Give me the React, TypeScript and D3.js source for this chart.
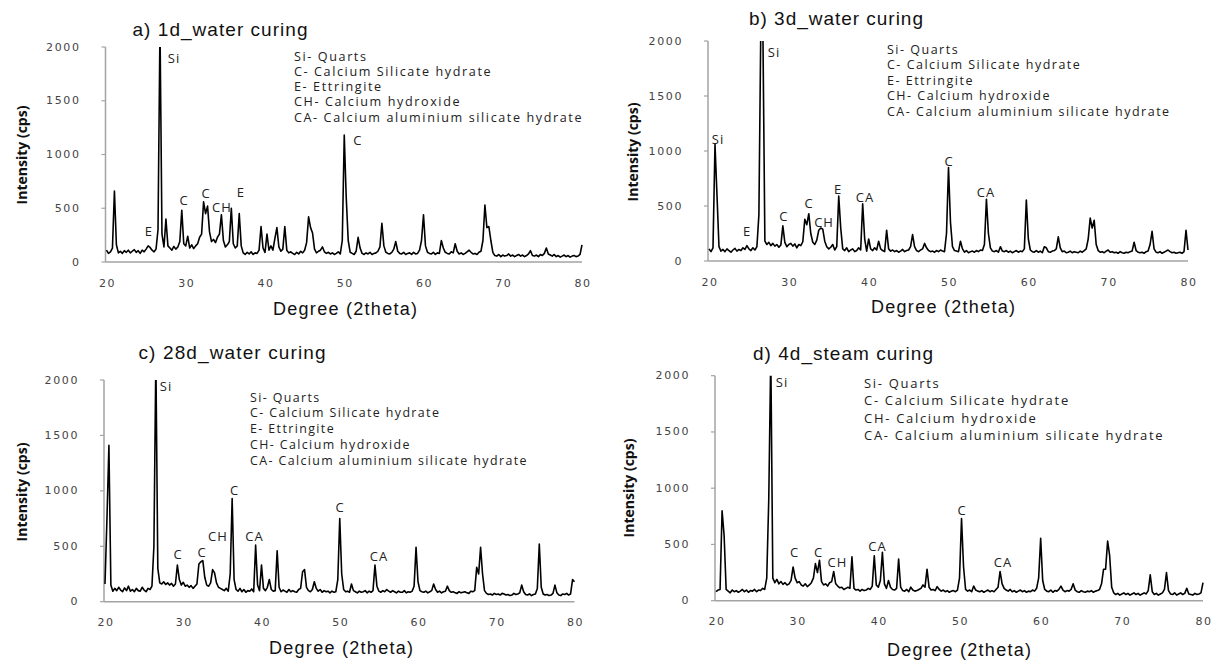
import React from "react";
import * as d3 from "d3";

// XRD patterns, sampled every 0.25° 2θ from 20° to 80° (intensity in cps)
const START = 20;
const STEP = 0.25;
const xTicks = [20, 30, 40, 50, 60, 70, 80];
const yTicks = [0, 500, 1000, 1500, 2000];

const cps1d = [
  110, 80, 95, 130, 660, 160, 85, 100, 80, 105, 90, 110, 85, 100, 115, 90, 105, 80, 110, 95,
  120, 150, 135, 110, 95, 120, 300, 2200, 260, 140, 400, 150, 130, 110, 145, 120, 140, 190, 480, 170,
  150, 240, 130, 160, 125, 150, 170, 230, 260, 560, 450, 520, 280, 190, 210, 180, 230, 260, 440, 200,
  140, 160, 190, 500, 170, 130, 150, 450, 150, 85, 70, 90, 75, 95, 70, 85, 80, 110, 330, 130,
  90, 260, 110, 150, 110, 220, 320, 140, 100, 120, 330, 110, 85, 95, 80, 70, 90, 75, 100, 85,
  110, 180, 420, 320, 270, 120, 85, 100, 110, 140, 95, 80, 90, 75, 85, 70, 80, 95, 75, 200,
  1180, 600, 200, 90, 80, 70, 100, 230, 130, 80, 70, 85, 75, 90, 70, 80, 85, 100, 140, 360,
  150, 90, 80, 75, 90, 120, 190, 100, 80, 75, 90, 70, 80, 85, 70, 90, 75, 80, 110, 200,
  440, 150, 90, 80, 75, 90, 70, 85, 80, 200, 130, 90, 80, 75, 95, 85, 170, 100, 75, 85,
  70, 80, 95, 110, 90, 75, 80, 70, 90, 100, 200, 530, 320, 330, 200, 90, 60, 55, 70, 50,
  65, 55, 60, 75, 55, 65, 50, 60, 70, 55, 65, 50, 60, 75, 105, 60, 55, 65, 50, 70,
  60, 80, 130, 75, 65, 55, 70, 50, 60, 45, 55, 65, 50, 60, 45, 55, 60, 50, 55, 70,
  160,
];

const cps3d = [
  110, 85, 120, 1060, 600, 130, 90, 105, 85, 110, 95, 80, 100, 115, 90, 105, 95, 120, 105, 140,
  110, 95, 120, 100, 130, 420, 2200, 2100, 180, 150, 170, 140, 160, 135, 150, 125, 145, 320, 170, 130,
  150, 160, 135, 155, 120, 150, 140, 175, 380, 330, 430, 250, 170, 150, 190, 280, 300, 290, 180, 130,
  110, 125, 150, 100, 130, 590, 300, 110, 95, 120, 85, 100, 110, 85, 95, 120, 100, 520, 200, 90,
  200, 110, 95, 120, 100, 180, 110, 95, 85, 280, 110, 90, 100, 85, 95, 80, 90, 105, 85, 95,
  100, 130, 240, 130, 95, 85, 100, 110, 160, 120, 95, 85, 90, 80, 95, 85, 100, 90, 85, 250,
  850, 350, 130, 95, 90, 85, 180, 110, 80, 95, 75, 85, 90, 80, 95, 85, 100, 95, 150, 560,
  250, 120, 90, 85, 95, 80, 130, 90, 85, 95, 80, 90, 75, 85, 95, 80, 90, 85, 110, 555,
  200, 100, 85, 80, 95, 80, 90, 75, 130, 120, 85, 80, 90, 95, 110, 220, 120, 85, 90, 75,
  80, 90, 75, 85, 80, 75, 90, 80, 95, 110, 200, 390, 300, 370, 150, 95, 80, 85, 75, 90,
  100, 80, 85, 75, 80, 70, 85, 75, 70, 80, 75, 85, 90, 170, 95, 80, 75, 80, 70, 85,
  90, 150, 270, 110, 80, 75, 85, 70, 80, 90, 100, 85, 75, 80, 70, 75, 80, 70, 85, 280,
  100,
];

const cps28d = [
  160, 750, 1410, 150, 95, 120, 100, 130, 105, 90, 125, 100, 140, 95, 110, 90, 120, 100, 95, 130,
  105, 90, 120, 110, 140, 500, 2200, 300, 170, 160, 180, 155, 170, 150, 165, 140, 160, 330, 200, 150,
  175, 140, 150, 130, 145, 120, 140, 160, 340, 360, 370, 220, 150, 140, 170, 290, 260, 170, 130, 120,
  110, 100, 120, 95, 250, 930, 200, 110, 95, 120, 90, 110, 85, 100, 95, 115, 90, 510, 150, 100,
  330, 120, 100, 130, 200, 110, 95, 100, 460, 130, 90, 105, 95, 85, 110, 90, 100, 90, 85, 110,
  120, 270, 290, 130, 100, 90, 110, 180, 120, 95, 110, 85, 100, 90, 95, 80, 95, 85, 90, 200,
  750, 250, 110, 90, 95, 85, 160, 100, 90, 80, 95, 85, 90, 100, 80, 95, 85, 100, 330, 140,
  95, 85, 100, 90, 110, 95, 85, 100, 90, 80, 95, 85, 85, 100, 80, 90, 85, 95, 140, 490,
  180, 100, 90, 85, 95, 80, 90, 100, 160, 110, 85, 95, 80, 90, 95, 140, 100, 85, 90, 80,
  75, 90, 80, 85, 90, 80, 75, 95, 90, 100, 310, 250, 490, 250, 100, 75, 65, 70, 60, 75,
  65, 70, 60, 75, 70, 60, 65, 55, 60, 75, 65, 70, 80, 150, 90, 65, 60, 70, 55, 65,
  70, 120, 520, 130, 70, 60, 65, 55, 60, 75, 150, 80, 60, 55, 70, 65, 75, 60, 70, 200,
  180,
];

const cps4dSteam = [
  80, 95, 100, 800, 580, 100, 85, 70, 95, 80, 90, 75, 85, 100, 80, 95, 75, 90, 85, 100,
  80, 95, 90, 110, 100, 200, 900, 2200, 200, 160, 190, 150, 170, 145, 160, 140, 150, 180, 300, 200,
  160, 170, 140, 130, 150, 125, 140, 160, 200, 330, 250, 360, 170, 140, 150, 130, 160, 170, 260, 150,
  130, 115, 120, 100, 110, 120, 110, 390, 110, 95, 100, 85, 100, 90, 95, 110, 100, 130, 400, 140,
  120, 180, 430, 150, 110, 180, 120, 100, 95, 110, 370, 120, 90, 85, 100, 80, 120, 95, 85, 90,
  100, 110, 140, 120, 280, 120, 95, 100, 90, 125, 100, 85, 95, 80, 90, 75, 85, 90, 80, 95,
  200, 730, 300, 100, 85, 95, 80, 130, 95, 85, 80, 90, 75, 85, 95, 80, 90, 80, 100, 120,
  260, 150, 110, 95, 85, 100, 80, 90, 75, 85, 95, 80, 90, 75, 85, 80, 95, 85, 110, 200,
  555, 180, 100, 85, 80, 95, 75, 90, 85, 100, 130, 95, 80, 90, 85, 100, 150, 95, 80, 75,
  90, 80, 75, 85, 80, 90, 75, 85, 90, 100, 150, 280, 280, 530, 400, 120, 70, 55, 65, 50,
  60, 70, 55, 65, 50, 60, 70, 55, 65, 50, 60, 70, 60, 90, 230, 80, 55, 65, 50, 60,
  70, 100, 250, 90, 60, 55, 70, 50, 60, 70, 55, 65, 110, 60, 55, 50, 65, 55, 60, 70,
  160,
];

// peak annotations: [2θ, cps, label]
const peaks1d: [number, number, string][] = [
  [28.52, 1898, "Si"], [25.36, 288, "E"], [29.78, 577, "C"], [32.56, 642, "C"],
  [34.57, 512, "CH"], [36.97, 651, "E"], [51.73, 1135, "C"],
];
const peaks3d: [number, number, string][] = [
  [28.14, 1900, "Si"], [21.13, 1109, "Si"], [24.76, 273, "E"], [29.39, 409, "C"],
  [32.53, 527, "C"], [34.41, 355, "CH"], [36.16, 655, "E"], [39.54, 582, "CA"],
  [50.06, 909, "C"], [54.7, 627, "CA"],
];
const peaks28d: [number, number, string][] = [
  [27.8, 1946, "Si"], [29.33, 430, "C"], [32.4, 449, "C"], [34.44, 593, "CH"],
  [36.55, 1008, "C"], [39.11, 593, "CA"], [50.03, 854, "C"], [55.02, 412, "CA"],
];
const peaks4dSteam: [number, number, string][] = [
  [28.13, 1948, "Si"], [29.67, 437, "C"], [32.63, 437, "C"], [34.97, 348, "CH"],
  [39.9, 486, "CA"], [50.31, 806, "C"], [55.36, 348, "CA"],
];

const legendFull = [
  "Si- Quarts",
  "C- Calcium Silicate hydrate",
  "E- Ettringite",
  "CH- Calcium hydroxide",
  "CA- Calcium aluminium silicate hydrate",
];
const legendSteam = [
  "Si- Quarts",
  "C- Calcium Silicate hydrate",
  "CH- Calcium hydroxide",
  "CA- Calcium aluminium silicate hydrate",
];

const titles = ["a) 1d_water curing", "b) 3d_water curing", "c) 28d_water curing", "d) 4d_steam curing"];
const xTitle = "Degree (2theta)";
const yTitle = "Intensity (cps)";

// layout (pixels)
const layouts = [
  { xL: 106.5, xR: 582, y0: 262, yTop: 47, tX: 220, tY: 29, tW: 175, xtX: 345, xtY: 309, ytX: 21, ytY: 155, lX: 294, lY: 56, lDy: 15.3, lFs: 12.6, lLs: 1.6 },
  { xL: 709, xR: 1188, y0: 261, yTop: 41, tX: 836, tY: 18, tW: 174, xtX: 943, xtY: 307, ytX: 632, ytY: 152, lX: 887, lY: 49, lDy: 15.5, lFs: 12.5, lLs: 1.5 },
  { xL: 105, xR: 574.5, y0: 601.7, yTop: 380, tX: 232, tY: 352, tW: 187, xtX: 341, xtY: 648, ytX: 21, ytY: 492, lX: 250, lY: 397, lDy: 15.8, lFs: 12.4, lLs: 1.4 },
  { xL: 716, xR: 1203, y0: 600.7, yTop: 375.7, tX: 843, tY: 353, tW: 180, xtX: 959, xtY: 650, ytX: 628, ytY: 488, lX: 864, lY: 382.5, lDy: 17.5, lFs: 13.0, lLs: 1.7 },
];

const series = [cps1d, cps3d, cps28d, cps4dSteam];
const peakSets = [peaks1d, peaks3d, peaks28d, peaks4dSteam];
const legends = [legendFull, legendFull, legendFull, legendSteam];

const AXIS = "#a3a3a3";
const LBL_FONT = "'Open Sans', 'DejaVu Sans', sans-serif";
const TITLE_FONT = "'Liberation Sans', Arial, sans-serif";

function Panel({ idx }: { idx: number }) {
  const L = layouts[idx];
  const data = series[idx];
  const x = d3.scaleLinear().domain([20, 80]).range([L.xL, L.xR]);
  const y = d3.scaleLinear().domain([0, 2000]).range([L.y0, L.yTop]);
  const pts: [number, number][] = data.map((v, i) => [START + i * STEP, v]);
  const line = d3
    .line<[number, number]>()
    .x((d) => x(d[0]))
    .y((d) => y(d[1]));
  const clipId = `clip${idx}`;
  const ax = L.xL - 1;
  return (
    <g>
      <defs>
        <clipPath id={clipId}>
          <rect x={L.xL - 3} y={L.yTop} width={L.xR - L.xL + 6} height={L.y0 - L.yTop + 6} />
        </clipPath>
      </defs>
      {/* axes */}
      <line x1={ax} x2={ax} y1={L.yTop} y2={L.y0} stroke={AXIS} strokeWidth={1.5} />
      <line x1={ax} x2={L.xR} y1={L.y0} y2={L.y0} stroke={AXIS} strokeWidth={1.5} />
      {yTicks.map((t) => (
        <g key={t}>
          <line x1={ax - 4} x2={ax} y1={y(t)} y2={y(t)} stroke={AXIS} strokeWidth={1.2} />
          <text
            x={L.xL - 26}
            y={y(t)}
            textAnchor="end"
            dominantBaseline="central"
            fontFamily="'DejaVu Sans', sans-serif"
            fontSize={11}
            letterSpacing={1.6}
            fill="#444"
          >
            {t}
          </text>
        </g>
      ))}
      {xTicks.map((t) => (
        <text
          key={t}
          x={x(t) + 1}
          y={L.y0 + 21}
          textAnchor="middle"
          dominantBaseline="central"
          fontFamily="'DejaVu Sans', sans-serif"
          fontSize={11}
          letterSpacing={1.6}
          fill="#444"
        >
          {t}
        </text>
      ))}
      {/* trace */}
      <path
        d={line(pts) || ""}
        fill="none"
        stroke="#000"
        strokeWidth={1.6}
        strokeLinejoin="round"
        clipPath={`url(#${clipId})`}
      />
      {/* peak labels */}
      {peakSets[idx].map(([px, py, t], i) => (
        <text
          key={i}
          x={x(px)}
          y={y(py)}
          textAnchor="middle"
          dominantBaseline="central"
          fontFamily={LBL_FONT}
          fontSize={13}
          letterSpacing={1}
          fill="#222"
        >
          {t}
        </text>
      ))}
      {/* legend text */}
      {legends[idx].map((t, i) => (
        <text
          key={t}
          x={L.lX}
          y={L.lY + i * L.lDy}
          dominantBaseline="central"
          fontFamily={LBL_FONT}
          fontSize={L.lFs}
          letterSpacing={L.lLs}
          fill="#222"
        >
          {t}
        </text>
      ))}
      {/* titles */}
      <text
        x={L.tX}
        y={L.tY}
        textAnchor="middle"
        dominantBaseline="central"
        fontFamily={TITLE_FONT}
        fontSize={19}
        textLength={L.tW}
        lengthAdjust="spacing"
        fill="#111"
      >
        {titles[idx]}
      </text>
      <text
        x={L.xtX}
        y={L.xtY}
        textAnchor="middle"
        dominantBaseline="central"
        fontFamily={TITLE_FONT}
        fontSize={18}
        textLength={144}
        lengthAdjust="spacing"
        fill="#111"
      >
        {xTitle}
      </text>
      <text
        transform={`translate(${L.ytX},${L.ytY}) rotate(-90)`}
        textAnchor="middle"
        dominantBaseline="central"
        fontFamily={LBL_FONT}
        fontWeight="bold"
        fontSize={14}
        fill="#111"
      >
        {yTitle}
      </text>
    </g>
  );
}

export default function App() {
  return (
    <svg
      width={1218}
      height={663}
      style={{ position: "absolute", left: 0, top: 0, background: "#fff" }}
    >
      <rect width={1218} height={663} fill="#fff" />
      {[0, 1, 2, 3].map((i) => (
        <Panel key={i} idx={i} />
      ))}
    </svg>
  );
}
